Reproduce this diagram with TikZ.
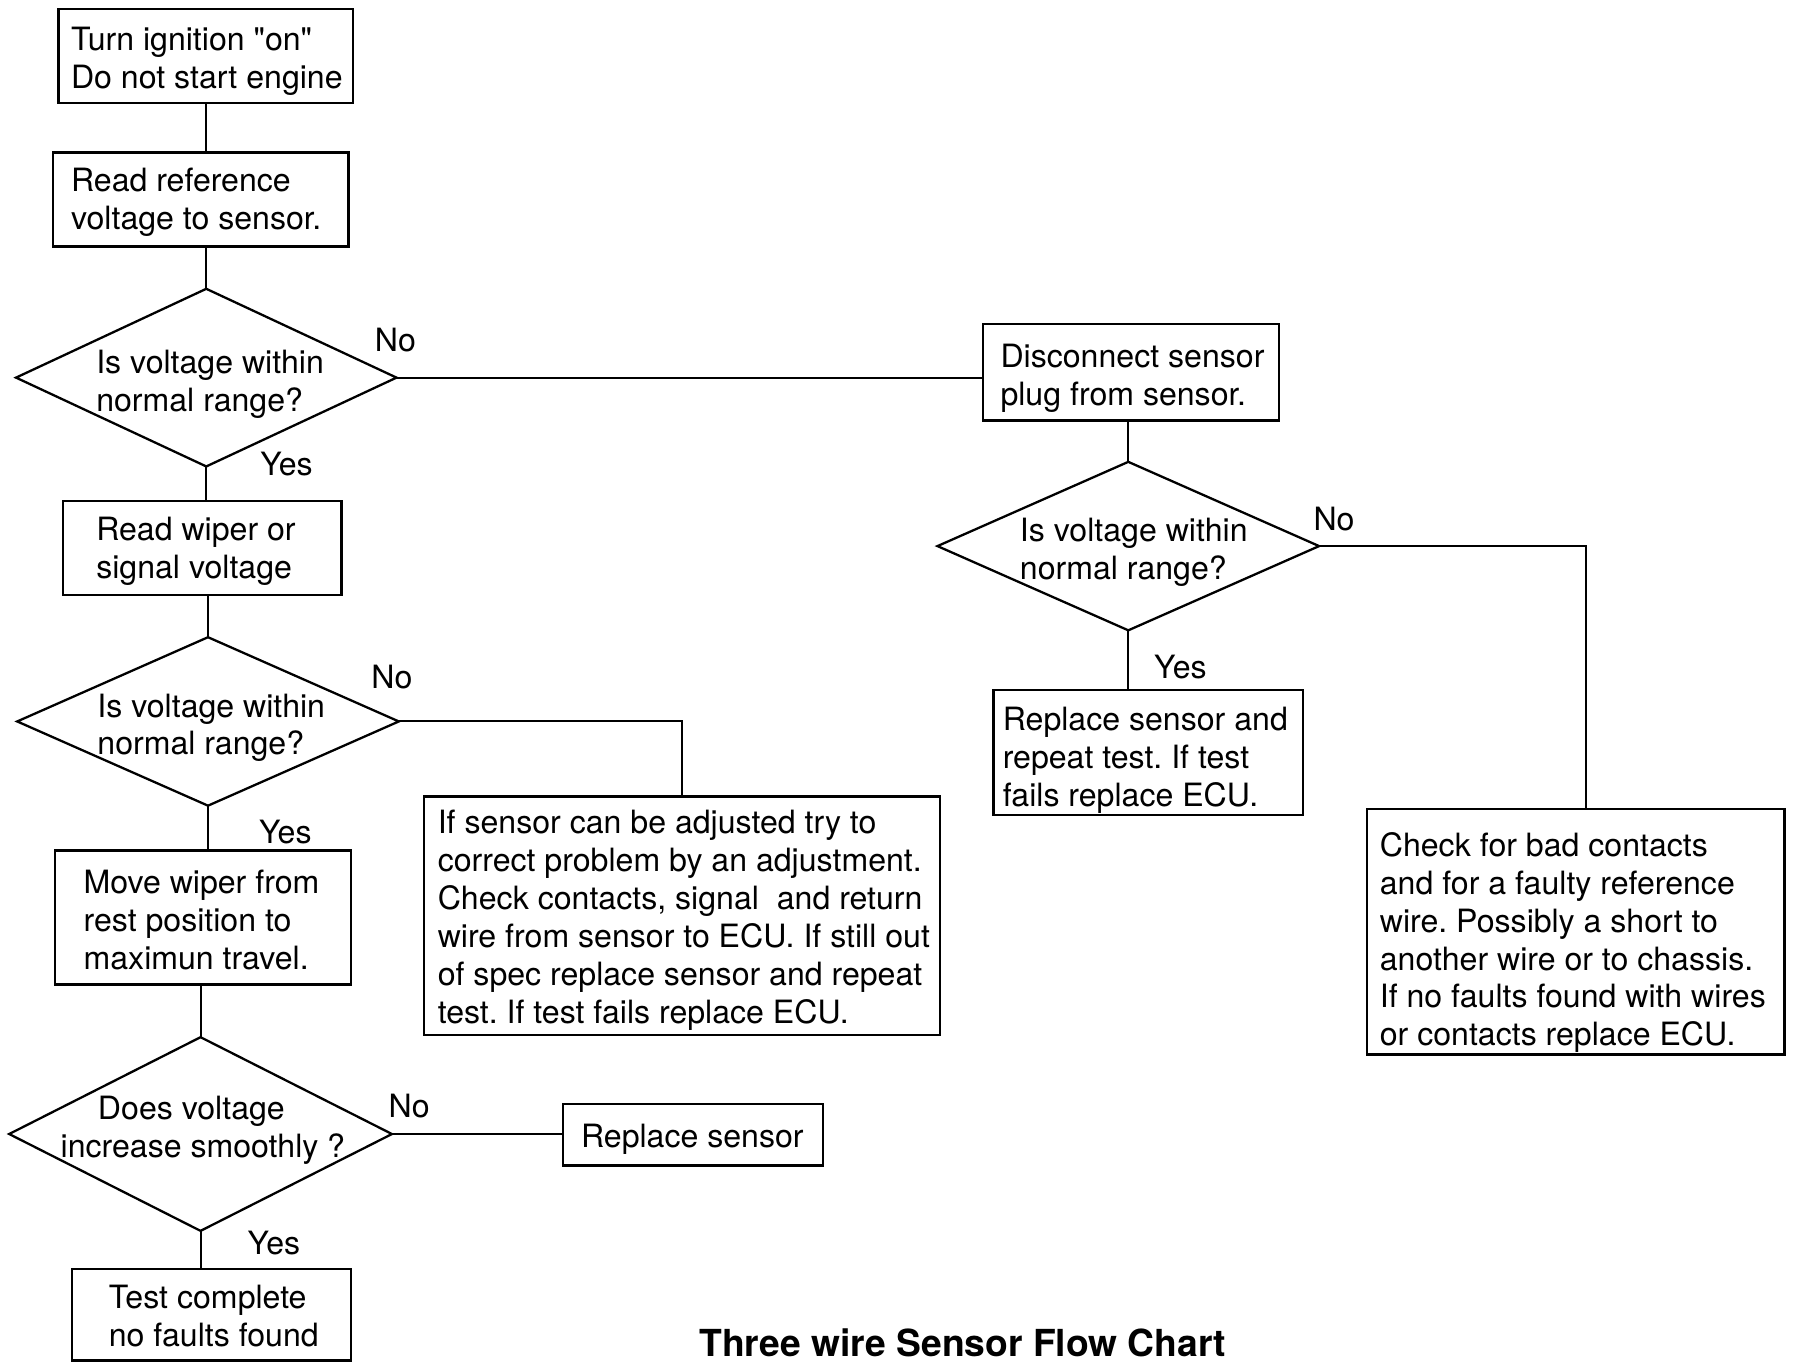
\documentclass[tikz,border=0pt]{standalone}
\usepackage{fontspec}
\setmainfont{TeX Gyre Heros}
\frenchspacing
\usetikzlibrary{shapes.geometric}
\begin{document}
\begin{tikzpicture}[x=1pt,y=-1pt,
  every node/.style={font=\fontsize{28}{33}\selectfont, inner sep=0pt, outer sep=0pt},
  stepbox/.style={draw, line width=2pt, rectangle},
  decision/.style={draw, line width=2pt, diamond, aspect=1},
  boxtext/.style={align=left, anchor=west},
  answer/.style={anchor=center},
  link/.style={line width=1.8pt}]
\useasboundingbox (0,0) rectangle (1568,1188);

% left column: main test sequence
\node[stepbox, minimum width=257, minimum height=82] (b1) at (179.5,49) {};
\node[boxtext] (s1) at (62,53.5) {Turn ignition \textquotedbl on\textquotedbl\\Do not start engine};
\node[stepbox, minimum width=258, minimum height=82] (b2) at (175,174) {};
\node[boxtext] (s2) at (62,176.5) {Read reference\\voltage to sensor.};
\node[decision, minimum width=332, minimum height=155] (d1) at (180,329.5) {};
\node[boxtext] (t1) at (84,335.5) {Is voltage within\\normal range?};
\node[stepbox, minimum width=243, minimum height=82] (b3) at (176.5,478) {};
\node[boxtext] (s3) at (84,481) {Read wiper or\\signal voltage};
\node[decision, minimum width=333, minimum height=147] (d2) at (181.5,629.5) {};
\node[boxtext] (t2) at (85,635) {Is voltage within\\normal range?};
\node[stepbox, minimum width=258, minimum height=117] (b4) at (177,800.5) {};
\node[boxtext] (s4) at (73,802.5) {Move wiper from\\rest position to\\maximun travel.};
\node[decision, minimum width=334, minimum height=169] (d4) at (175,989.5) {};
\node[align=center] (t4) at (177,986) {Does voltage\hspace*{20pt}\\increase smoothly ?};
\node[stepbox, minimum width=243, minimum height=80] (b10) at (184.5,1147) {};
\node[boxtext] (s10) at (95,1148.5) {Test complete\\no faults found};

% side branches
\node[stepbox, minimum width=450, minimum height=208] (b8) at (595,799) {};
\node[boxtext] (s8) at (382,803)
  {If sensor can be adjusted try to\\correct problem by an adjustment.\\Check contacts, signal\ \ and return\\wire from sensor to ECU. If still out\\of spec replace sensor and repeat\\test. If test fails replace ECU.};
\node[stepbox, minimum width=227, minimum height=54] (b9) at (604.5,990) {};
\node[boxtext] (s9) at (507,994) {Replace sensor};

% right column: reference voltage fault path
\node[stepbox, minimum width=258, minimum height=84] (b5) at (987,325) {};
\node[boxtext] (s5) at (873,330) {Disconnect sensor\\plug from sensor.};
\node[decision, minimum width=333, minimum height=147] (d3) at (984.5,476.5) {};
\node[boxtext] (t3) at (890,482) {Is voltage within\\normal range?};
\node[stepbox, minimum width=270, minimum height=109] (b6) at (1002,656.5) {};
\node[boxtext] (s6) at (875,663.5) {Replace sensor and\\repeat test. If test\\fails replace ECU.};
\node[stepbox, minimum width=364, minimum height=214] (b7) at (1375,813) {};
\node[boxtext] (s7) at (1204,822.5)
  {Check for bad contacts\\and for a faulty reference\\wire. Possibly a short to\\another wire or to chassis.\\If no faults found with wires\\or contacts replace ECU.};

% branch labels
\node[answer] (n1) at (345,297) {No};
\node[answer] (y1) at (250,405) {Yes};
\node[answer] (n2) at (342,591) {No};
\node[answer] (y2) at (249,726) {Yes};
\node[answer] (n3) at (1164,453) {No};
\node[answer] (y3) at (1030,582) {Yes};
\node[answer] (n4) at (357,965) {No};
\node[answer] (y4) at (239,1085) {Yes};

% connectors
\coordinate (k3) at (1384,476.5);
\draw[link] (b1.south) -- (b1.south |- b2.north);
\draw[link] (d1.north) -- (d1.north |- b2.south);
\draw[link] (d1.south) -- (d1.south |- b3.north);
\draw[link] (d2.north) -- (d2.north |- b3.south);
\draw[link] (d2.south) -- (d2.south |- b4.north);
\draw[link] (d4.north) -- (d4.north |- b4.south);
\draw[link] (d4.south) -- (d4.south |- b10.north);
\draw[link] (d1.east) -- (d1.east -| b5.west);
\draw[link] (d3.north) -- (d3.north |- b5.south);
\draw[link] (d3.south) -- (d3.south |- b6.north);
\draw[link] (d3.east) -- (k3) -- (k3 |- b7.north);
\draw[link] (d2.east) -| (b8.north);
\draw[link] (d4.east) -- (d4.east -| b9.west);

% caption
\node[font=\fontsize{32.5}{38}\selectfont\bfseries, anchor=base] (title) at (840,1183.5)
  {Three wire Sensor Flow Chart};
\end{tikzpicture}
\end{document}
